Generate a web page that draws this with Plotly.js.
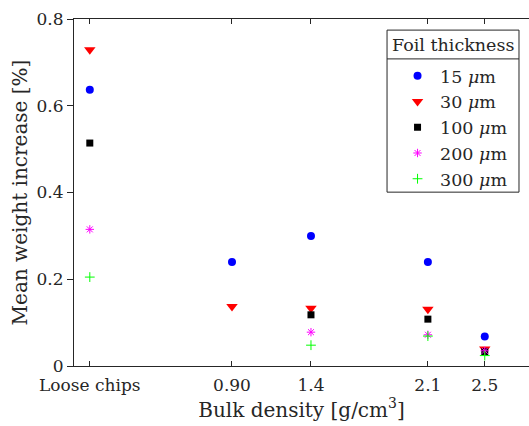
<!DOCTYPE html>
<html>
<head>
<meta charset="utf-8">
<script src="https://cdn.plot.ly/plotly-3.0.1.min.js"></script>
<style>html,body{margin:0;padding:0;background:#fff;}#chart{width:529px;height:426px;}</style>
</head>
<body>
<div id="chart"></div>
<script>
// Category positions on the density axis and their tick labels
const xPositions = [0, 0.9, 1.4, 2.14, 2.5];
const xTickLabels = ["Loose chips", "0.90", "1.4", "2.1", "2.5"];

// Mean weight increase [%] per foil thickness (null = no measurement)
const thickness15 = [0.637, 0.240, 0.300, 0.240, 0.068];
const thickness30 = [0.729, 0.137, 0.133, 0.131, 0.039];
const thickness100 = [0.514, null, 0.118, 0.108, 0.033];
const thickness200 = [0.315, null, 0.078, 0.072, 0.035];
const thickness300 = [0.205, null, 0.048, 0.069, 0.024];

const seriesNames = ["15 <i>μ</i>m", "30 <i>μ</i>m", "100 <i>μ</i>m", "200 <i>μ</i>m", "300 <i>μ</i>m"];
const legendTitle = "Foil thickness";

const FONT = "'DejaVu Serif'";
const INK = "#262626";

function tr(y, name, marker) {
  return {x: xPositions, y: y, name: name, type: "scatter", mode: "markers",
          marker: marker, legendgroup: name, cliponaxis: false};
}

const traces = [
  tr(thickness15, seriesNames[0], {symbol: "circle", color: "#0000ff", size: 8}),
  tr(thickness30, seriesNames[1], {symbol: "triangle-down", color: "#ff0000", size: 10}),
  tr(thickness100, seriesNames[2], {symbol: "square", color: "#000000", size: 7}),
  tr(thickness200, seriesNames[3], {symbol: "asterisk-open", color: "#ff00ff", size: 7, line: {color: "#ff00ff", width: 1}}),
  tr(thickness300, seriesNames[4], {symbol: "cross-thin-open", color: "#00ff00", size: 7, line: {color: "#00ff00", width: 1}})
];

// legend frame (paper coordinates)
const LX0 = 0.688, LX1 = 0.978, LY0 = 0.501, LY1 = 0.968, LSEP = 0.885;

const layout = {
  width: 529, height: 426,
  margin: {l: 74, r: 0, t: 19, b: 60},
  paper_bgcolor: "#fff", plot_bgcolor: "#fff",
  font: {family: FONT, color: INK, size: 17},
  showlegend: true,
  xaxis: {
    range: [-0.1, 2.78],
    tickvals: xPositions, ticktext: xTickLabels,
    ticks: "inside", ticklen: 5, tickcolor: INK, ticklabelstandoff: 4,
    showline: true, linecolor: INK, linewidth: 1, mirror: "ticks",
    showgrid: false, zeroline: false,
    tickfont: {size: 17, family: FONT, color: INK},
    title: {text: "Bulk density [g/cm<sup>3</sup>]", font: {size: 20, family: FONT, color: INK}, standoff: 2}
  },
  yaxis: {
    range: [0, 0.8], dtick: 0.2, tick0: 0,
    ticks: "outside", ticklen: 6, tickcolor: INK,
    showline: true, linecolor: INK, linewidth: 1, mirror: "ticks",
    showgrid: false, zeroline: false,
    tickfont: {size: 17, family: FONT, color: INK},
    title: {text: "Mean weight increase [%]", font: {size: 20, family: FONT, color: INK}, standoff: 3}
  },
  legend: {
    x: LX0, y: LSEP + 0.003, xanchor: "left", yanchor: "top",
    bgcolor: "rgba(0,0,0,0)", borderwidth: 0,
    font: {size: 17.5, family: FONT, color: INK},
    tracegroupgap: 0, indentation: 8, itemwidth: 35
  },
  shapes: [
    {type: "rect", xref: "paper", yref: "paper", x0: LX0, x1: LX1, y0: LY0, y1: LY1,
     fillcolor: "#fff", line: {color: INK, width: 1}, layer: "above"},
    {type: "line", xref: "paper", yref: "paper", x0: LX0, x1: LX1, y0: LSEP, y1: LSEP,
     line: {color: INK, width: 1}, layer: "above"}
  ],
  annotations: [
    {text: legendTitle, xref: "paper", yref: "paper", x: (LX0 + LX1) / 2, y: (LY1 + LSEP) / 2,
     xanchor: "center", yanchor: "middle", showarrow: false,
     font: {size: 17.5, family: FONT, color: INK}}
  ]
};

Plotly.newPlot("chart", traces, layout, {displayModeBar: false, staticPlot: true});
</script>
</body>
</html>
